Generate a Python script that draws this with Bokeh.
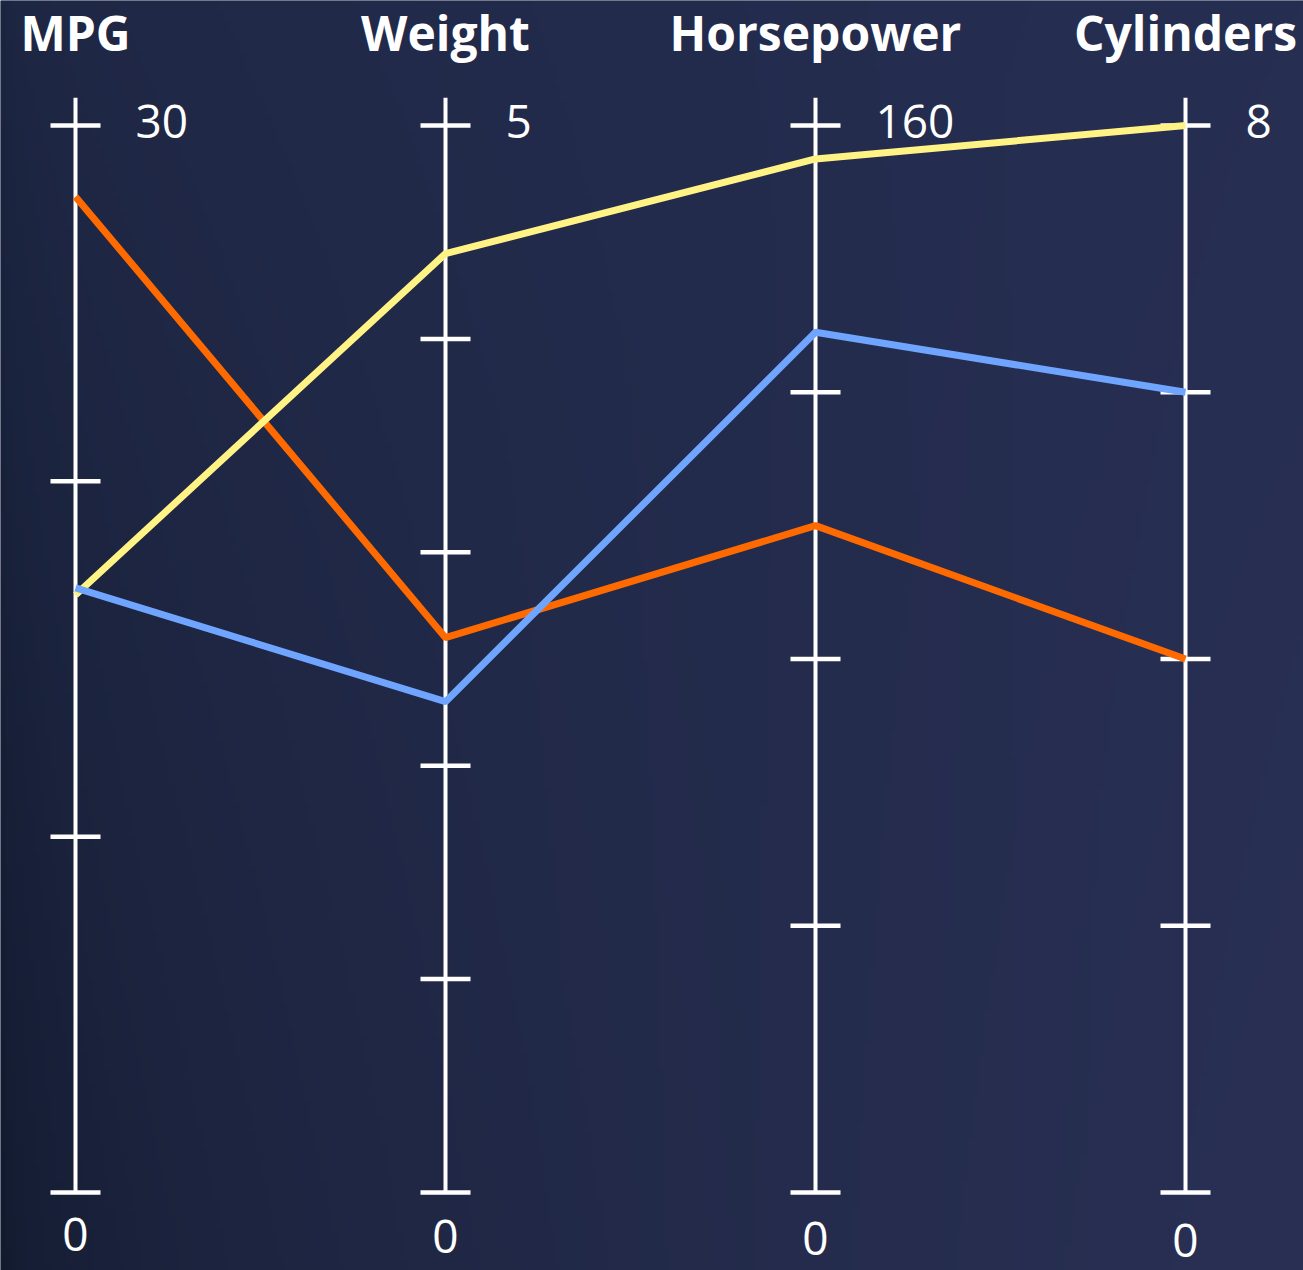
import numpy as np
from bokeh.plotting import figure
from bokeh.models import ColumnDataSource
from bokeh.core.properties import value
from bokeh.embed import file_html
from bokeh.resources import INLINE

# ---- data ----
dimensions = ["MPG", "Weight", "Horsepower", "Cylinders"]
axis_max = [30, 5, 160, 8]
axis_ticks = [
    [0, 10, 20, 30],
    [0, 1, 2, 3, 4, 5],
    [0, 40, 80, 120, 160],
    [0, 2, 4, 6, 8],
]
top_labels = ["30", "5", "160", "8"]
bottom_labels = ["0", "0", "0", "0"]

series_names = ["orange", "yellow", "blue"]
orange_values = [28.0, 2.6, 100, 4]
yellow_values = [16.8, 4.4, 155, 8]
blue_values = [17.0, 2.3, 129, 6]
series_values = [orange_values, yellow_values, blue_values]
series_colors = ["#ff6a00", "#fff385", "#70a5ff"]

# ---- figure ----
W, H = 1303, 1270
x0, x1 = -0.2027, 3.3189
y0, y1 = -0.0731, 1.1172

p = figure(width=W, height=H, x_range=(x0, x1), y_range=(y0, y1),
           output_backend="svg", toolbar_location=None, min_border=0)
p.axis.visible = False
p.grid.visible = False
p.outline_line_color = None
p.background_fill_color = "#232c4c"
p.border_fill_color = "#232c4c"

# background gradient
nx, ny = 240, 240
tx = (np.linspace(0, 1, nx) ** 0.45)[None, :]
ty = np.linspace(0, 1, ny)[:, None]
bl = np.array([0x12, 0x1a, 0x2e], float)
tl = np.array([0x1c, 0x25, 0x40], float)
br = np.array([0x29, 0x30, 0x54], float)
tr = np.array([0x26, 0x2e, 0x52], float)
col = ((1 - tx)[..., None] * ((1 - ty)[..., None] * bl + ty[..., None] * tl)
       + tx[..., None] * ((1 - ty)[..., None] * br + ty[..., None] * tr))
img = np.empty((ny, nx), dtype=np.uint32)
view = img.view(dtype=np.uint8).reshape((ny, nx, 4))
view[:, :, 0] = col[..., 0].astype(np.uint8)
view[:, :, 1] = col[..., 1].astype(np.uint8)
view[:, :, 2] = col[..., 2].astype(np.uint8)
view[:, :, 3] = 255
p.image_rgba(image=[img], x=x0, y=y0, dw=x1 - x0, dh=y1 - y0)

idx = list(range(len(dimensions)))

# axis lines
p.segment(x0=idx, y0=[0] * len(idx), x1=idx, y1=[1.026] * len(idx),
          line_color="white", line_width=4)

# ticks
tx_list, ty_list = [], []
for i, (ticks, m) in enumerate(zip(axis_ticks, axis_max)):
    for t in ticks:
        tx_list.append(i)
        ty_list.append(t / m)
p.scatter(x=tx_list, y=ty_list, marker="dash", size=50,
          line_color="white", line_width=4.5)

# data lines
for vals, c in zip(series_values, series_colors):
    p.line(x=idx, y=[v / m for v, m in zip(vals, axis_max)],
           line_color=c, line_width=7)

# titles
p.text(x=idx, y=[1] * len(idx), text=dimensions, text_align="center",
       text_baseline="alphabetic", y_offset=-93,
       text_font=value("Open Sans"), text_font_style="bold",
       text_font_size="48px", text_color="white")

# top labels
p.text(x=idx, y=[1] * len(idx), text=top_labels, text_align="left",
       text_baseline="alphabetic", x_offset=60, y_offset=-4,
       text_font=value("Open Sans"), text_font_size="46px", text_color="white")

# bottom labels
bottom_offsets = [42, 44, 46, 48]
src = ColumnDataSource(dict(x=idx, y=[0] * len(idx), t=bottom_labels, yo=bottom_offsets))
p.text(x="x", y="y", text="t", source=src, text_align="center",
       text_baseline="alphabetic", y_offset="yo",
       text_font=value("Open Sans"), text_font_size="46px", text_color="white")

open("out.html", "w").write(file_html(p, INLINE))
